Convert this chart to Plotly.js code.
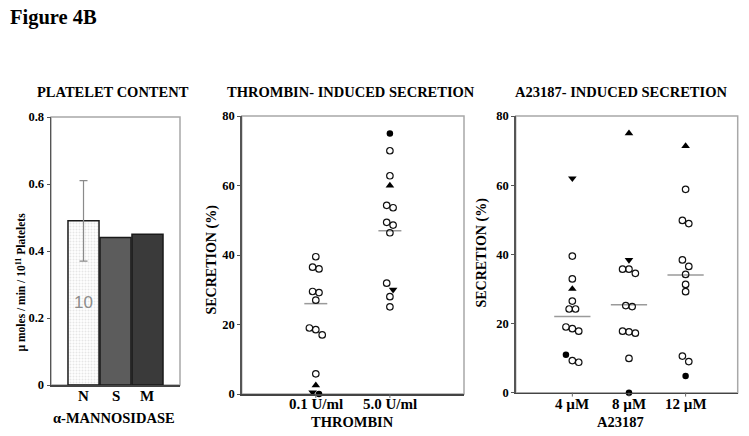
<!DOCTYPE html>
<html><head><meta charset="utf-8">
<script src="https://cdn.plot.ly/plotly-3.0.1.min.js"></script>
<style>html,body{margin:0;padding:0;background:#fff}#chart{width:749px;height:436px}</style>
</head><body><div id="chart"></div>
<script>
// ---------- DATA ----------
const contentCategories = ['N', 'S', 'M'];
const contentValues = [0.49, 0.44, 0.45];
const contentError = [0.12, 0, 0];
const contentNLabel = '10';
const contentTicks = [0, 0.2, 0.4, 0.6, 0.8];

const thrombinCategories = ['0.1 U/ml', '5.0 U/ml'];
const thrombinOpen = [
  [39.5, 36, 36.5, 29.2, 29.5, 27, 19, 18.5, 17, 5.8],
  [70, 62.8, 54.3, 53.6, 49.4, 48.6, 46.4, 31.9, 28, 25.1]
];
const thrombinFilled = [[0], [75]];
const thrombinUp = [[2.5], [60]];
const thrombinDown = [[0.5], [30]];
const thrombinMedian = [26, 47];

const a23187Categories = ['4 µM', '8 µM', '12 µM'];
const a23187Open = [
  [39.5, 32.9, 26.5, 24.2, 24.2, 19, 18.5, 17.8, 9.3, 8.8],
  [35.7, 35.7, 34.5, 25.2, 24.9, 17.8, 17.2, 17.6, 9.9],
  [58.8, 49.8, 48.9, 38.4, 36.5, 34.2, 31.3, 29.2, 10.6, 9]
];
const a23187Filled = [[11], [0], [4.8]];
const a23187Up = [[30], [75], [71.3]];
const a23187Down = [[62], [38.4], []];
const a23187Median = [22, 25.4, 34];

const secretionTicks = [0, 20, 40, 60, 80];

// ---------- STYLES ----------
const SERIF = 'Liberation Serif, Times New Roman, serif';
const W = 749, H = 436;
const px = v => v / W, py = v => 1 - v / H;

const markerStyles = {
  open:   {symbol: 'circle-open', size: 6.5, color: '#111', line: {width: 1.2, color: '#111'}},
  filled: {symbol: 'circle', size: 6.5, color: '#000'},
  up:     {symbol: 'triangle-up', size: 7.5, color: '#000'},
  down:   {symbol: 'triangle-down', size: 7.5, color: '#000'}
};

function scatterPanel(cats, open, filled, up, down, median, xa, ya, pxPerUnit, medHalf) {
  const traces = [];
  const buckets = {open: {x: [], y: []}, filled: {x: [], y: []}, up: {x: [], y: []}, down: {x: [], y: []}};
  const d = 3.2 / pxPerUnit;
  cats.forEach((c, g) => {
    const items = [];
    open[g].forEach(v => items.push({v, t: 'open'}));
    filled[g].forEach(v => items.push({v, t: 'filled'}));
    up[g].forEach(v => items.push({v, t: 'up'}));
    down[g].forEach(v => items.push({v, t: 'down'}));
    items.sort((a, b) => b.v - a.v);
    const clusters = [];
    items.forEach(it => {
      const last = clusters[clusters.length - 1];
      if (last && Math.abs(last[last.length - 1].v - it.v) < 2.0) last.push(it);
      else clusters.push([it]);
    });
    clusters.forEach(cl => {
      const n = cl.length;
      cl.forEach((it, i) => {
        const off = (i - (n - 1) / 2) * 2 * d;
        buckets[it.t].x.push(g + 1 + off);
        buckets[it.t].y.push(it.v);
      });
    });
    traces.push({
      type: 'scatter', mode: 'lines', xaxis: xa, yaxis: ya,
      x: [g + 1 - medHalf, g + 1 + medHalf], y: [median[g], median[g]],
      line: {color: '#9a9a9a', width: 1.5}, hoverinfo: 'skip', showlegend: false
    });
  });
  Object.keys(buckets).forEach(t => {
    traces.push({
      type: 'scatter', mode: 'markers', xaxis: xa, yaxis: ya, cliponaxis: false,
      x: buckets[t].x, y: buckets[t].y, marker: markerStyles[t], showlegend: false
    });
  });
  return traces;
}

const barTrace = {
  type: 'bar', x: contentCategories, y: contentValues, xaxis: 'x', yaxis: 'y',
  marker: {
    color: ['#e6e6e6', '#5c5c5c', '#3a3a3a'],
    line: {color: '#1a1a1a', width: 1.5},
    pattern: {shape: ['.', '', ''], bgcolor: '#eaeaea', fgcolor: '#8a8a8a', size: 3, solidity: 0.35}
  },
  showlegend: false
};
const errIdx = contentError.map((e, i) => i).filter(i => contentError[i] > 0);
const errTrace = {
  type: 'scatter', mode: 'markers', xaxis: 'x', yaxis: 'y',
  x: errIdx.map(i => contentCategories[i]), y: errIdx.map(i => contentValues[i]),
  marker: {size: 1, color: 'rgba(0,0,0,0)'},
  error_y: {type: 'data', array: errIdx.map(i => contentError[i]), visible: true, color: '#8a8a8a', thickness: 1.2, width: 4},
  showlegend: false
};

const data = [barTrace, errTrace]
  .concat(scatterPanel(thrombinCategories, thrombinOpen, thrombinFilled, thrombinUp, thrombinDown, thrombinMedian, 'x2', 'y2', 74, 0.155))
  .concat(scatterPanel(a23187Categories, a23187Open, a23187Filled, a23187Up, a23187Down, a23187Median, 'x3', 'y3', 56.7, 0.32));

const tickFont = {family: SERIF, size: 12.5, color: '#000', weight: 'bold'};
const catFont = {family: SERIF, size: 15, color: '#000', weight: 'bold'};
const baseY = {showgrid: false, zeroline: false, showline: true, linecolor: '#555', linewidth: 1.5,
  ticks: 'outside', ticklen: 3, tickcolor: '#555', tickfont: tickFont, fixedrange: true};
const baseX = {showgrid: false, zeroline: false, showline: true, linecolor: '#444', linewidth: 1.5,
  showticklabels: false, fixedrange: true, ticks: ''};

function frame(xr, yr) {
  return {type: 'rect', xref: xr + ' domain', yref: yr + ' domain', x0: 0, x1: 1, y0: 0, y1: 1,
    line: {color: '#a8a8a8', width: 1.5}, layer: 'below'};
}
function catTicks(cats, xr, yr, len) {
  return cats.map((c, i) => ({type: 'line', xref: xr, yref: yr + ' domain', x0: i + 1, x1: i + 1,
    y0: 0, y1: -len, line: {color: '#666', width: 1}}));
}
// category labels placed just under each axis
function catLabels(cats, xr, xOf, yPix) {
  return cats.map((c, i) => ({text: c, xref: xr, yref: 'paper', x: xOf(i), y: py(yPix),
    showarrow: false, xanchor: 'center', yanchor: 'middle', font: catFont}));
}

function label(text, x, y, size, extra) {
  return Object.assign({text, xref: 'paper', yref: 'paper', x: px(x), y: py(y), showarrow: false,
    xanchor: 'center', yanchor: 'middle', font: {family: SERIF, size, color: '#000', weight: 'bold'}}, extra || {});
}

const layout = {
  width: W, height: H, margin: {l: 0, r: 0, t: 0, b: 0},
  paper_bgcolor: '#fff', plot_bgcolor: '#fff', bargap: 0.03,
  xaxis: Object.assign({}, baseX, {domain: [px(51), px(180)], anchor: 'y', type: 'category',
    range: [-1.016, 3.016]}),
  yaxis: Object.assign({}, baseY, {domain: [py(385), py(117)], anchor: 'x', range: [0, 0.8],
    tickvals: contentTicks, ticktext: contentTicks.map(String)}),
  xaxis2: Object.assign({}, baseX, {domain: [px(241.7), px(464)], anchor: 'y2', range: [0, 3]}),
  yaxis2: Object.assign({}, baseY, {domain: [py(394), py(116)], anchor: 'x2', range: [0, 80],
    tickvals: secretionTicks}),
  xaxis3: Object.assign({}, baseX, {domain: [px(515.7), px(737.7)], anchor: 'y3', range: [0, 3.92]}),
  yaxis3: Object.assign({}, baseY, {domain: [py(392.7), py(116)], anchor: 'x3', range: [0, 80],
    tickvals: secretionTicks}),
  shapes: [frame('x', 'y'), frame('x2', 'y2'), frame('x3', 'y3')]
    .concat(catTicks(thrombinCategories, 'x2', 'y2', 0.014))
    .concat(catTicks(a23187Categories, 'x3', 'y3', 0.014)),
  annotations: [
    label('Figure 4B', 8, 18, 20.5, {xanchor: 'left'}),
    label('PLATELET CONTENT', 113, 91.5, 14.5),
    label('THROMBIN- INDUCED SECRETION', 351, 91.5, 14.5),
    label('A23187- INDUCED SECRETION', 621, 91.5, 14.5),
    label('µ moles / min / 10<sup>11</sup> Platelets', 20.5, 282, 11.5, {textangle: -90}),
    label('SECRETION (%)', 211.5, 260, 14, {textangle: -90}),
    label('SECRETION (%)', 481.5, 253, 14, {textangle: -90}),
    label('α-MANNOSIDASE', 114, 418, 14.5),
    label('THROMBIN', 352, 421.5, 14.5),
    label('A23187', 620, 421.5, 14.5),
    {text: contentNLabel, xref: 'x', yref: 'y', x: contentCategories[0], y: 0.245, showarrow: false,
      font: {family: 'Liberation Sans, Arial, sans-serif', size: 17, color: '#8c8c8c'}}
  ]
    .concat(catLabels(contentCategories, 'x', i => i, 396))
    .concat(catLabels(thrombinCategories, 'x2', i => i + 1, 404))
    .concat(catLabels(a23187Categories, 'x3', i => i + 1, 403.5))
};

Plotly.newPlot('chart', data, layout, {displayModeBar: false, staticPlot: true});
</script>
</body></html>
